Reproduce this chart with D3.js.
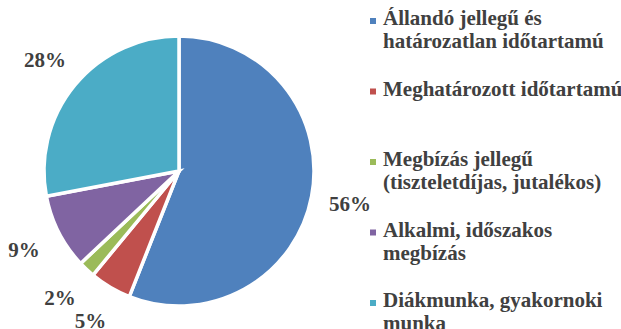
<!DOCTYPE html>
<html>
<head>
<meta charset="utf-8">
<script src="https://cdn.jsdelivr.net/npm/d3@7"></script>
<style>
  html, body { margin: 0; padding: 0; background: #fff; }
  svg { display: block; }
</style>
</head>
<body>
<svg id="chart" width="621" height="329" font-family="Liberation Serif" font-weight="bold"></svg>
<script>
// Employment types and their shares (%)
const categories = [
  ["Állandó jellegű és", "határozatlan időtartamú"],
  ["Meghatározott időtartamú"],
  ["Megbízás jellegű", "(tiszteletdíjas, jutalékos)"],
  ["Alkalmi, időszakos", "megbízás"],
  ["Diákmunka, gyakornoki", "munka"]
];
const values = [56, 5, 2, 9, 28];
const colors = ["#4F81BD", "#C0504D", "#9BBB59", "#8064A2", "#4BACC6"];

const INK = "#404040";

const svg = d3.select("#chart");
const cx = 179, cy = 171, radius = 135;

const data = values.map((v, i) => ({ value: v, label: categories[i], color: colors[i] }));

const pie = d3.pie().sort(null).value(d => d.value);
const arc = d3.arc().innerRadius(0).outerRadius(radius);
const labelArc = d3.arc().innerRadius(174).outerRadius(174);

const g = svg.append("g").attr("transform", `translate(${cx},${cy})`);
const arcs = pie(data);

g.selectAll("path.slice")
  .data(arcs)
  .join("path")
  .attr("class", "slice")
  .attr("d", arc)
  .attr("fill", d => d.data.color)
  .attr("stroke", "#fff")
  .attr("stroke-width", 3.5)
  .attr("stroke-linejoin", "miter");

// Percentage labels placed outside each slice
svg.selectAll("text.pct")
  .data(arcs)
  .join("text")
  .attr("class", "pct")
  .attr("x", d => cx + labelArc.centroid(d)[0])
  .attr("y", d => cy + labelArc.centroid(d)[1] + 7)
  .attr("text-anchor", "middle")
  .attr("font-family", "Liberation Serif")
  .attr("font-weight", "bold")
  .attr("font-size", 21)
  .attr("fill", INK)
  .text(d => d.data.value + "%");

// Legend: evenly spaced slots, each with room for two lines
const legendX = 370, firstBaseline = 25, slot = 70.5, lineH = 23, sw = 6;

svg.selectAll("rect.swatch")
  .data(data)
  .join("rect")
  .attr("class", "swatch")
  .attr("x", legendX)
  .attr("y", (d, i) => firstBaseline + i * slot - 7)
  .attr("width", sw).attr("height", sw)
  .attr("fill", d => d.color);

const lines = data.flatMap((d, i) => d.label.map((t, j) => ({ t, i, j })));
svg.selectAll("text.leg")
  .data(lines)
  .join("text")
  .attr("class", "leg")
  .attr("x", legendX + 13)
  .attr("y", d => firstBaseline + d.i * slot + d.j * lineH)
  .attr("font-family", "Liberation Serif")
  .attr("font-weight", "bold")
  .attr("font-size", 21)
  .attr("fill", INK)
  .text(d => d.t);
</script>
</body>
</html>
